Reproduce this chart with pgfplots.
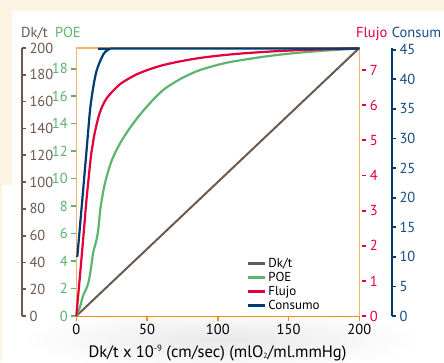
\documentclass[border=0pt]{standalone}
\usepackage{pgfplots}
\pgfplotsset{compat=1.18}
\usepackage{fontspec}
\setmainfont{PT Sans}
\definecolor{cream}{HTML}{FDF4E3}
\definecolor{dkbrown}{HTML}{6B5A50}
\definecolor{poegreen}{HTML}{5CB46F}
\definecolor{flred}{HTML}{E3003B}
\definecolor{cblue}{HTML}{003B71}
\definecolor{cbluetext}{HTML}{1A4C88}
\definecolor{lorange}{HTML}{F9B266}
\definecolor{dorange}{HTML}{F08C1A}
\newcommand{\tfont}{\fontsize{14.5}{16}\selectfont}
\pgfplotsset{/pgf/number format/assume math mode=true,
  plotbox/.style={scale only axis, width=283pt, height=268pt, at={(76.3pt,46pt)}, anchor=south west, xmin=0, xmax=200, clip=false},
  sideaxis/.style={scale only axis, width=10pt, height=268pt, anchor=south west, xmin=0, xmax=1, hide x axis, axis y line*=right, tick align=outside, major tick length=4pt, yticklabel style={font=\tfont}},
}
\begin{document}
\begin{tikzpicture}[x=1pt,y=1pt]
\useasboundingbox (0,0) rectangle (444,362);
\fill[cream] (0,0) rectangle (444,362);
\fill[white] (12,351) -- (444,351) -- (444,0) -- (2,0) -- (2,177) -- (12,177) -- cycle;
\begin{scope}
\clip (2,0) rectangle (444,351);
\shade[inner color=black!9, outer color=white] (222,22) ellipse (200 and 32);
\end{scope}

% main axis: Dk/t
\begin{axis}[plotbox, ymin=0, ymax=200, axis x line*=bottom, hide y axis,
  x axis line style={dorange, line width=2pt},
  xtick={0,50,100,150,200}, xticklabels={{0\hspace{24pt}},50,100,150,200},
  tick align=outside, major tick length=4.5pt,
  xtick style={dorange, line width=1.6pt},
  xticklabel style={font=\tfont, text=black}]
\fill[white] (rel axis cs:0,0) rectangle (rel axis cs:1,1);
\draw[lorange, line width=1.5pt] (rel axis cs:0,0) -- (rel axis cs:0,1) -- (rel axis cs:1,1) -- (rel axis cs:1,0);
\addplot[dkbrown, line width=2pt] coordinates {(0,0) (200,200)};
\end{axis}

% POE
\begin{axis}[plotbox, ymin=0, ymax=19.5, hide x axis, axis y line*=left,
  y axis line style={draw=none}, ytick={0,2,...,18}, tick align=outside,
  major tick length=5pt, ytick style={poegreen, line width=1.8pt},
  yticklabel style={poegreen, font=\tfont}]
\addplot[poegreen, line width=2.2pt, smooth, tension=0.5] coordinates {
(0,0) (2.6,0.65) (4.7,1.46) (7.3,2.04) (9.0,2.62) (10.9,3.86) (12.0,4.66)
(13.9,5.38) (15.5,6.26) (17.2,7.93) (20.3,9.68) (25.0,11.3) (31.4,12.65)
(38.0,13.7) (45.0,14.65) (54.4,15.75) (62.7,16.55) (74.5,17.3)
(86.2,17.85) (98.0,18.22) (109.8,18.5) (133.4,18.88) (153.4,19.12)
(177.0,19.32) (200,19.46)};
\end{axis}

% Flujo
\begin{axis}[plotbox, ymin=0, ymax=7.63, hide x axis, axis y line*=right,
  y axis line style={draw=none}, ytick={0,1,...,7}, tick align=outside,
  major tick length=4.5pt, ytick style={flred, line width=1.8pt, xshift=2.5pt},
  yticklabel style={flred, font=\tfont, xshift=2.5pt}]
\addplot[flred, line width=2.2pt, smooth, tension=0.5] coordinates {
(0,0) (2.6,1.15) (5.4,2.45) (7.3,3.35) (10.2,4.5) (11.6,4.88) (13.2,5.25)
(16.7,5.8) (21.5,6.2) (30.9,6.6) (42.7,6.88) (54.4,7.06) (66.2,7.19)
(86.2,7.34) (109.8,7.45) (133.4,7.52) (158,7.57) (200,7.62)};
\end{axis}

% Consumo data + legend
\begin{axis}[plotbox, ymin=0, ymax=45.3, hide axis,
  legend image code/.code={\draw[#1, line width=3pt] (0pt,0pt) -- (17pt,0pt);},
  legend style={at={(rel axis cs:0.59,0.232)}, anchor=north west, draw=none, fill=none,
    font=\fontsize{13}{14}\selectfont, row sep=-0.6pt},
  legend cell align=left]
\addplot[cblue, line width=2.2pt, forget plot, smooth, tension=0.5] coordinates {
(0.7,10.0) (3.82,18.5) (6.86,26.9) (9.68,34.7) (12.0,38.7) (14.4,41.5)
(18.0,43.7) (20.3,44.6) (23.3,45.1) (27.3,45.2) (200,45.2)};
\addlegendimage{dkbrown}\addlegendentry{Dk/t}
\addlegendimage{poegreen}\addlegendentry{POE}
\addlegendimage{flred}\addlegendentry{Flujo}
\addlegendimage{cblue}\addlegendentry{Consumo}
\end{axis}

% Dk/t side axis
\begin{axis}[sideaxis, at={(12pt,46pt)}, ymin=0, ymax=200, ytick={0,20,...,200},
  y axis line style={dkbrown, line width=2pt}, ytick style={dkbrown, line width=1.8pt},
  yticklabel style={dkbrown}]
\addplot[draw=none] coordinates {(0,0)};
\end{axis}

% Consum side axis
\begin{axis}[sideaxis, at={(382pt,46pt)}, ymin=0, ymax=45.3, ytick={0,5,...,45},
  y axis line style={cblue, line width=2pt}, ytick style={cblue, line width=1.8pt},
  yticklabel style={cbluetext}]
\addplot[draw=none] coordinates {(0,0)};
\end{axis}

\node[anchor=base west, inner sep=0, text=dkbrown, font=\tfont] at (21,324.3) {Dk/t};
\node[anchor=base west, inner sep=0, text=poegreen, font=\tfont] at (55,324.3) {POE};
\node[anchor=base west, inner sep=0, text=flred, font=\tfont] at (356,324.3) {Flujo};
\node[anchor=base west, inner sep=0, text=cbluetext, font=\tfont] at (391.7,324.3) {Consum};
\node[anchor=base, inner sep=0, font=\fontsize{16.5}{18}\selectfont] at (217.5,4.7) {Dk/t x 10\raisebox{5.5pt}{\fontsize{9}{9}\selectfont -9} (cm/sec) (mlO\raisebox{-1pt}{\fontsize{7.5}{8}\selectfont 2}/ml.mmHg)};
\end{tikzpicture}
\end{document}
